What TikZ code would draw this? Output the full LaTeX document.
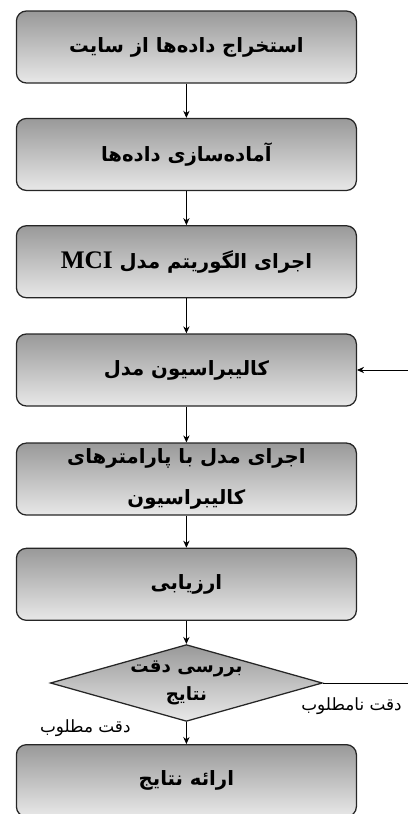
\documentclass[tikz,border=0pt]{standalone}
\usepackage{fontspec}
\setmainfont{Liberation Serif}
\newfontfamily\farsifont[Script=Arabic]{DejaVu Sans}
\TeXXeTstate=1
\usetikzlibrary{positioning,shapes.geometric,arrows.meta}

\newcommand{\fa}[1]{{\farsifont\beginR #1\endR}}

\begin{document}
\begin{tikzpicture}[>={Stealth[length=5pt,width=4.5pt]}, node distance=0.86cm,
    stepbox/.style={draw=black!85, line width=0.9pt, rounded corners=0.25cm,
        minimum width=8.5cm, minimum height=1.8cm, top color=gray!80, bottom color=gray!18,
        align=center, font=\fontsize{14}{29}\selectfont\bfseries},
    testbox/.style={diamond, draw=black!85, line width=0.9pt, aspect=3.6, inner sep=0pt,
        minimum width=6.8cm, minimum height=1.92cm, top color=gray!80, bottom color=gray!18,
        align=center, font=\fontsize{13}{20}\selectfont\bfseries},
    lbl/.style={font=\fontsize{12}{14}\selectfont, inner sep=1pt},
    flow/.style={->, line width=0.6pt}]
        \useasboundingbox (0,0) rectangle (10.175,-20.35);
        \node[stepbox] (extract) at (4.66,-1.175) {\fa{استخراج داده‌ها از سایت}};
        \node[stepbox, below=0.855cm of extract] (prepare) {\fa{آماده‌سازی داده‌ها}};
        \node[stepbox, below=0.85cm of prepare] (runmci) {\fa{اجرای الگوریتم مدل \beginL{\rmfamily\fontsize{18}{20}\selectfont\bfseries MCI}\endL}};
        \node[stepbox, below=0.875cm of runmci] (calib) {\fa{کالیبراسیون مدل}};
        \node[stepbox, below=0.895cm of calib] (runcal) {\fa{اجرای مدل با پارامترهای}\\\fa{کالیبراسیون}};
        \node[stepbox, below=0.8cm of runcal] (assess) {\fa{ارزیابی}};
        \node[testbox, below=0.575cm of assess] (check) {\fa{بررسی دقت}\\\fa{نتایج}};
        \node[stepbox, below=0.55cm of check] (present) {\fa{ارائه نتایج}};
        \coordinate (loop) at (10.45,-17.04);
        % main chain
        \draw[flow] (extract) -- (prepare);
        \draw[flow] (prepare) -- (runmci);
        \draw[flow] (runmci) -- (calib);
        \draw[flow] (calib) -- (runcal);
        \draw[flow] (runcal) -- (assess);
        \draw[flow] (assess) -- (check);
        \draw[flow] (check) -- node[lbl, left=1.35cm, pos=0.3] {\fa{دقت مطلوب}} (present);
        % back to calibration
        \draw[flow] (check.east) -- node[lbl, below=9pt, pos=0.3] {\fa{دقت نامطلوب}} (loop |- check.east)
               |- (calib.east);
      \end{tikzpicture}
\end{document}
